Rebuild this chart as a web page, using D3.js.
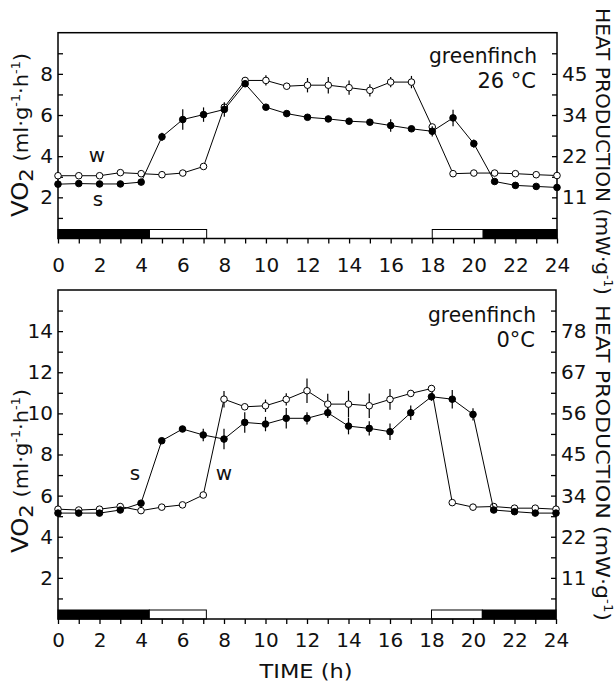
<!DOCTYPE html>
<html>
<head>
<meta charset="utf-8">
<script src="https://cdn.jsdelivr.net/npm/d3@7"></script>
<style>
  html, body { margin: 0; padding: 0; background: #fff; }
  svg { display: block; }
  text { font-family: "DejaVu Sans", sans-serif; fill: #111; }
</style>
</head>
<body>
<svg id="chart" width="616" height="684"></svg>
<script>
// ---------------- DATA ----------------
const hours = d3.range(0, 25);
const xTickLabels = ["0","2","4","6","8","10","12","14","16","18","20","22","24"];

// Top panel: greenfinch 26 °C
const topW    = [3.05,3.05,3.05,3.2,3.15,3.1,3.18,3.5,6.38,7.68,7.68,7.4,7.45,7.45,7.33,7.2,7.6,7.6,5.42,3.15,3.18,3.18,3.15,3.1,3.06];
const topWErr = [0,0,0,0,0,0,0,0,0,0.15,0.25,0,0.35,0.4,0.35,0.3,0.25,0.3,0,0,0,0,0,0,0];
const topS    = [2.64,2.67,2.65,2.65,2.74,4.94,5.78,6.02,6.27,7.52,6.38,6.07,5.89,5.81,5.7,5.65,5.49,5.33,5.21,5.86,4.61,2.77,2.58,2.53,2.48];
const topSErr = [0,0,0,0,0,0.2,0.5,0.35,0.35,0.15,0,0,0,0.15,0,0,0.3,0,0.25,0.4,0.2,0,0,0,0];
const topLeftLabels  = ["2","4","6","8"];
const topRightLabels = ["11","22","34","45"];

// Bottom panel: greenfinch 0 °C
const botW    = [5.34,5.3,5.34,5.47,5.27,5.44,5.55,6.03,10.69,10.32,10.37,10.68,11.1,10.45,10.45,10.37,10.68,10.97,11.21,5.66,5.44,5.47,5.39,5.39,5.34];
const botWErr = [0,0,0,0,0,0,0,0,0.4,0,0.3,0.3,0.6,0.5,0.65,0.6,0.5,0.15,0.15,0,0,0,0,0,0];
const botS    = [5.15,5.15,5.15,5.3,5.63,8.67,9.24,8.95,8.75,9.56,9.48,9.76,9.76,10.03,9.38,9.27,9.11,10.03,10.81,10.69,9.95,5.3,5.22,5.15,5.15];
const botSErr = [0,0,0,0,0,0,0,0.3,0.5,0.5,0.35,0.5,0.3,0.25,0.4,0.35,0.4,0.35,0.2,0.45,0.3,0,0,0,0];
const botLeftLabels  = ["2","4","6","8","10","12","14"];
const botRightLabels = ["11","22","34","45","56","67","78"];

// light/dark bars (hours)
const lightBars = [
  {start: 0,    end: 4.4,  dark: true},
  {start: 4.4,  end: 7.15, dark: false},
  {start: 18,   end: 20.45, dark: false},
  {start: 20.45,end: 24,   dark: true}
];

const MW_PER_VO2 = 5.6;

// ---------------- DRAW ----------------
const svg = d3.select("#chart");

function drawPanel(cfg) {
  const g = svg.append("g");
  const x = d3.scaleLinear().domain([0, 24]).range([cfg.left, cfg.right]);
  const y = d3.scaleLinear().domain([0, cfg.yMax]).range([cfg.bottom, cfg.top]);
  const yMW = d3.scaleLinear().domain([0, cfg.yMax * MW_PER_VO2]).range([cfg.bottom, cfg.top]);

  // light-dark bars
  g.selectAll("rect.bar").data(lightBars).join("rect")
    .attr("x", d => x(d.start)).attr("width", d => x(d.end) - x(d.start))
    .attr("y", cfg.bottom - 9).attr("height", 9)
    .attr("fill", d => d.dark ? "#000" : "#fff")
    .attr("stroke", "#000").attr("stroke-width", 1);

  // bottom axis
  const xAxis = d3.axisBottom(x).tickValues(hours).tickSizeInner(5).tickSizeOuter(0)
    .tickPadding(cfg.xPad)
    .tickFormat(d => d % 2 === 0 ? xTickLabels[d / 2] : "");
  const gx = g.append("g").attr("transform", `translate(0,${cfg.bottom})`).call(xAxis);
  gx.select(".domain").remove();
  gx.selectAll("line").attr("stroke", "#000").attr("stroke-width", 1.3);
  gx.selectAll("text").attr("font-size", 20).attr("fill", "#111");

  // left axis (ticks inward)
  const leftVals = d3.range(1, cfg.yMax);
  const yAxis = d3.axisLeft(y).tickValues(leftVals).tickSizeInner(-5).tickSizeOuter(0)
    .tickPadding(5)
    .tickFormat(d => d % 2 === 0 ? cfg.leftLabels[d / 2 - 1] || "" : "");
  const gy = g.append("g").attr("transform", `translate(${cfg.left},0)`).call(yAxis);
  gy.select(".domain").remove();
  gy.selectAll("line").attr("stroke", "#000").attr("stroke-width", 1.3);
  gy.selectAll("text").attr("font-size", 20).attr("fill", "#111");

  // right axis (heat production, ticks inward)
  const rightVals = leftVals.map(v => v * MW_PER_VO2);
  const rAxis = d3.axisRight(yMW).tickValues(rightVals).tickSizeInner(-5).tickSizeOuter(0)
    .tickPadding(5)
    .tickFormat((d, i) => (i + 1) % 2 === 0 ? cfg.rightLabels[(i + 1) / 2 - 1] || "" : "");
  const gr = g.append("g").attr("transform", `translate(${cfg.right},0)`).call(rAxis);
  gr.select(".domain").remove();
  gr.selectAll("line").attr("stroke", "#000").attr("stroke-width", 1.3);
  gr.selectAll("text").attr("font-size", 20).attr("fill", "#111");

  // frame
  g.append("rect").attr("x", cfg.left).attr("y", cfg.top)
    .attr("width", cfg.right - cfg.left).attr("height", cfg.bottom - cfg.top)
    .attr("fill", "none").attr("stroke", "#000").attr("stroke-width", 1.5);

  const line = d3.line().x(d => x(d.h)).y(d => y(d.v));

  function series(vals, errs, filled) {
    const pts = vals.map((v, i) => ({h: hours[i], v: v, e: errs[i]}));
    g.append("path").datum(pts).attr("d", line)
      .attr("fill", "none").attr("stroke", "#000").attr("stroke-width", 1);
    g.selectAll(null).data(pts.filter(d => d.e > 0)).join("line")
      .attr("x1", d => x(d.h)).attr("x2", d => x(d.h))
      .attr("y1", d => y(d.v - d.e)).attr("y2", d => y(d.v + d.e))
      .attr("stroke", "#000").attr("stroke-width", 1.2);
    g.selectAll(null).data(pts).join("circle")
      .attr("cx", d => x(d.h)).attr("cy", d => y(d.v)).attr("r", 3.3)
      .attr("fill", filled ? "#000" : "#fff").attr("stroke", "#000").attr("stroke-width", 1);
  }
  series(cfg.w, cfg.wErr, false);
  series(cfg.s, cfg.sErr, true);

  // species / temperature
  g.append("text").attr("x", cfg.right - 20).attr("y", cfg.nameY).attr("text-anchor", "end")
    .attr("font-size", 21).attr("textLength", 108).attr("lengthAdjust", "spacingAndGlyphs")
    .text("greenfinch");
  g.append("text").attr("x", cfg.right - 21).attr("y", cfg.nameY + 25).attr("text-anchor", "end")
    .attr("font-size", 21).text(cfg.temp);

  // series labels
  cfg.seriesLabels.forEach(l => {
    g.append("text").attr("x", l.x).attr("y", l.y).attr("text-anchor", "middle")
      .attr("font-size", 20).text(l.t);
  });

  // left title
  const lt = g.append("text")
    .attr("transform", `translate(28,${cfg.titleCy}) rotate(-90)`)
    .attr("text-anchor", "middle").attr("font-size", 20)
    .attr("textLength", 164).attr("lengthAdjust", "spacingAndGlyphs");
  lt.append("tspan").attr("font-size", 23).text("VO");
  lt.append("tspan").attr("font-size", 20).attr("dy", 5).text("2");
  lt.append("tspan").attr("dy", -5).text(" (ml·g");
  lt.append("tspan").attr("font-size", 12).attr("dy", -8).text("-1");
  lt.append("tspan").attr("dy", 8).text("·h");
  lt.append("tspan").attr("font-size", 12).attr("dy", -8).text("-1");
  lt.append("tspan").attr("dy", 8).text(")");

  // right title
  const rt = g.append("text")
    .attr("transform", `translate(596,${cfg.heatY}) rotate(90)`)
    .attr("text-anchor", "start").attr("font-size", 20)
    .attr("textLength", cfg.heatLen).attr("lengthAdjust", "spacingAndGlyphs");
  rt.append("tspan").text(cfg.heatText + "(mW·g");
  rt.append("tspan").attr("font-size", 12).attr("dy", -8).text("-1");
  rt.append("tspan").attr("dy", 8).text(")");
}

drawPanel({
  left: 58, right: 557, top: 32.7, bottom: 238.5, yMax: 10, xPad: 14,
  w: topW, wErr: topWErr, s: topS, sErr: topSErr,
  leftLabels: topLeftLabels, rightLabels: topRightLabels,
  nameY: 63, temp: "26 °C",
  seriesLabels: [{t: "w", x: 97, y: 162}, {t: "s", x: 98, y: 206}],
  titleCy: 135, heatY: 8, heatLen: 287, heatText: "HEAT PRODUCTION "
});

drawPanel({
  left: 58, right: 556, top: 290, bottom: 619, yMax: 16, xPad: 9,
  w: botW, wErr: botWErr, s: botS, sErr: botSErr,
  leftLabels: botLeftLabels, rightLabels: botRightLabels,
  nameY: 322, temp: "0°C",
  seriesLabels: [{t: "s", x: 135, y: 480}, {t: "w", x: 224, y: 480}],
  titleCy: 471, heatY: 305, heatLen: 316, heatText: "HEAT PRODUCTION "
});

svg.append("text").attr("x", 306).attr("y", 678).attr("text-anchor", "middle")
  .attr("font-size", 20).attr("textLength", 93).attr("lengthAdjust", "spacingAndGlyphs")
  .text("TIME (h)");
</script>
</body>
</html>
